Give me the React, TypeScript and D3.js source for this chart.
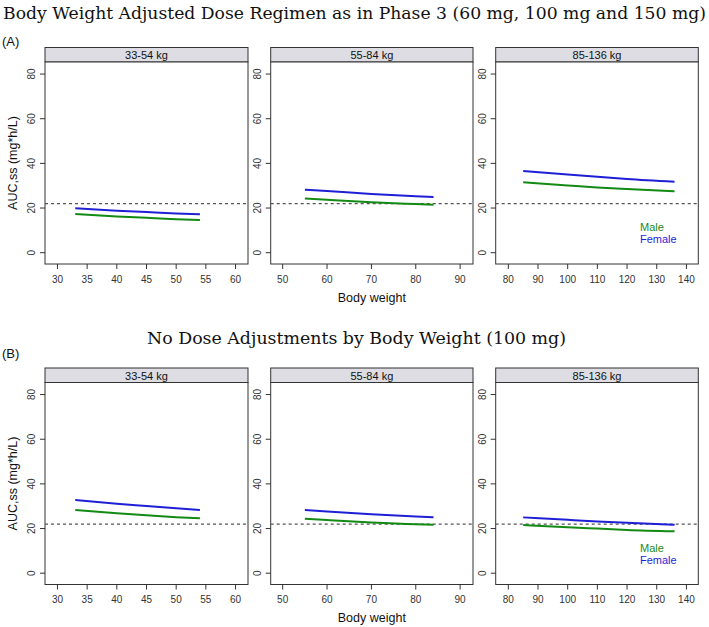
import React from "react";
import * as d3 from "d3";

const panelLabels = ["33-54 kg", "55-84 kg", "85-136 kg"];
const titles = [
  "Body Weight Adjusted Dose Regimen as in Phase 3 (60 mg, 100 mg and 150 mg)",
  "No Dose Adjustments by Body Weight (100 mg)",
];
const rowTags = ["(A)", "(B)"];
const xDomains: [number, number][] = [[27.9, 62.1], [47.3, 92.9], [75.75, 144]];
const xTicks = [
  [30, 35, 40, 45, 50, 55, 60],
  [50, 60, 70, 80, 90],
  [80, 90, 100, 110, 120, 130, 140],
];
const yTicks = [0, 20, 40, 60, 80];
const refLine = 22;

const weights = [
  [33, 40, 45, 50, 54],
  [55, 60, 70, 80, 84],
  [85, 100, 110, 120, 136],
];
// row A
const femaleA = [
  [19.9, 18.8, 18.2, 17.6, 17.2],
  [28.2, 27.6, 26.3, 25.3, 24.9],
  [36.6, 35.0, 34.0, 33.0, 31.8],
];
const maleA = [
  [17.3, 16.2, 15.6, 15.0, 14.6],
  [24.3, 23.7, 22.6, 21.8, 21.5],
  [31.5, 30.1, 29.2, 28.5, 27.5],
];
// row B
const femaleB = [
  [32.8, 31.1, 30.1, 29.1, 28.3],
  [28.3, 27.6, 26.4, 25.4, 25.0],
  [25.0, 23.9, 23.2, 22.6, 21.7],
];
const maleB = [
  [28.3, 26.8, 25.9, 25.1, 24.6],
  [24.4, 23.8, 22.7, 21.9, 21.7],
  [21.6, 20.6, 20.0, 19.4, 18.8],
];
const legendItems = [
  { label: "Male", color: "#1a8a1a" },
  { label: "Female", color: "#1f1fd6" },
];

const W = 709;
const H = 627;
const panelX: [number, number][] = [[45, 248], [270.7, 473], [495.7, 698.3]];
const rowOffset = [0, 320.5];
const femaleColor = "#1f1fd6";
const maleColor = "#138a13";
const sans = "Liberation Sans, Arial, Helvetica, sans-serif";
const serif = "DejaVu Serif, Liberation Serif, serif";

function Panel({ row, col }: { row: number; col: number }) {
  const off = rowOffset[row];
  const stripTop = 47.5 + off;
  const plotTop = 62 + off;
  const plotBottom = 264 + off;
  const [x0, x1] = panelX[col];
  const x = d3.scaleLinear().domain(xDomains[col]).range([x0, x1]);
  const y = d3.scaleLinear().domain([-5.06, 85.4]).range([plotBottom, plotTop]);
  const line = d3
    .line<[number, number]>()
    .x((d) => x(d[0]))
    .y((d) => y(d[1]))
    .curve(d3.curveMonotoneX);
  const fem = row === 0 ? femaleA[col] : femaleB[col];
  const mal = row === 0 ? maleA[col] : maleB[col];
  const fPts = weights[col].map((w, i) => [w, fem[i]] as [number, number]);
  const mPts = weights[col].map((w, i) => [w, mal[i]] as [number, number]);
  return (
    <g>
      <rect x={x0} y={stripTop} width={x1 - x0} height={plotTop - stripTop} fill="#dddde3" stroke="#333" strokeWidth={1} />
      <text x={(x0 + x1) / 2} y={plotTop - 3} textAnchor="middle" fontFamily={sans} fontSize={11} fill="#111">
        {panelLabels[col]}
      </text>
      <rect x={x0} y={plotTop} width={x1 - x0} height={plotBottom - plotTop} fill="white" stroke="#333" strokeWidth={1} />
      <line x1={x0} x2={x1} y1={y(refLine)} y2={y(refLine)} stroke="#555" strokeWidth={1.2} strokeDasharray="3,3" />
      <path d={line(mPts) || ""} fill="none" stroke={maleColor} strokeWidth={2} />
      <path d={line(fPts) || ""} fill="none" stroke={femaleColor} strokeWidth={2} />
      {yTicks.map((t) => (
        <g key={"y" + t}>
          <line x1={x0 - 5} x2={x0} y1={y(t)} y2={y(t)} stroke="#333" />
          <text
            transform={`translate(${x0 - 10},${y(t)}) rotate(-90)`}
            textAnchor="middle"
            fontFamily={sans}
            fontSize={10}
            fill="#333"
          >
            {t}
          </text>
        </g>
      ))}
      {xTicks[col].map((t) => (
        <g key={"x" + t}>
          <line x1={x(t)} x2={x(t)} y1={plotBottom} y2={plotBottom + 5} stroke="#333" />
          <text x={x(t)} y={plotBottom + 18.5} textAnchor="middle" fontFamily={sans} fontSize={10} fill="#333">
            {t}
          </text>
        </g>
      ))}
      {col === 0 && (
        <text
          transform={`translate(${17},${(plotTop + plotBottom) / 2}) rotate(-90)`}
          textAnchor="middle"
          fontFamily={sans}
          fontSize={12.5}
          fill="#111"
        >
          AUC,ss (mg*h/L)
        </text>
      )}
      {col === 1 && (
        <text x={(x0 + x1) / 2} y={plotBottom + 37.5} textAnchor="middle" fontFamily={sans} fontSize={12.5} fill="#111">
          Body weight
        </text>
      )}
      {col === 2 &&
        legendItems.map((it, i) => (
          <text key={it.label} x={640} y={231 + off + i * 12} fontFamily={sans} fontSize={11} fill={it.color}>
            {it.label}
          </text>
        ))}
    </g>
  );
}

export default function App() {
  return (
    <svg width={W} height={H} style={{ display: "block", position: "absolute", left: 0, top: 0 }}>
      <rect width={W} height={H} fill="white" />
      <text x={3} y={18.5} fontFamily={serif} fontSize={17} fill="#111" textLength={703} lengthAdjust="spacingAndGlyphs">
        {titles[0]}
      </text>
      <text x={147} y={344} fontFamily={serif} fontSize={17} fill="#111" textLength={419} lengthAdjust="spacingAndGlyphs">
        {titles[1]}
      </text>
      <text x={2} y={46} fontFamily={sans} fontSize={13} fill="#111">
        {rowTags[0]}
      </text>
      <text x={2} y={358} fontFamily={sans} fontSize={13} fill="#111">
        {rowTags[1]}
      </text>
      {[0, 1].map((r) => [0, 1, 2].map((c) => <Panel key={`${r}-${c}`} row={r} col={c} />))}
    </svg>
  );
}
